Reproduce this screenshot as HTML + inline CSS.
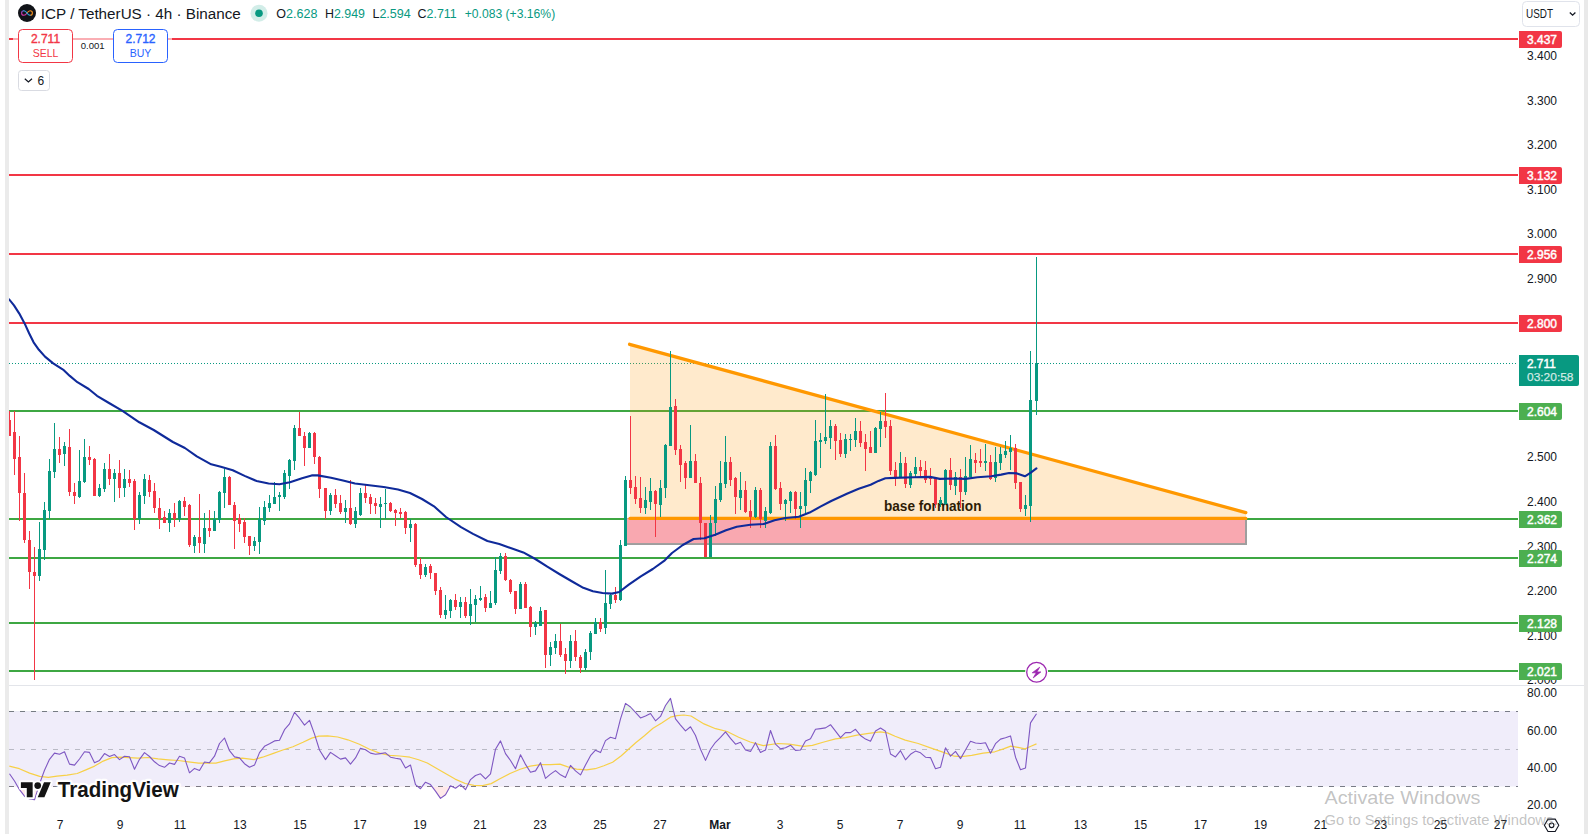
<!DOCTYPE html>
<html><head><meta charset="utf-8"><title>ICP / TetherUS chart</title>
<style>
html,body{margin:0;padding:0;background:#fff;overflow:hidden}
body{width:1592px;height:834px;position:relative;font-family:"Liberation Sans",sans-serif}
svg{position:absolute;left:0;top:0;display:block}
text{font-family:"Liberation Sans",sans-serif}
</style></head><body>
<svg width="1592" height="834" viewBox="0 0 1592 834">
<defs>
<clipPath id="cm"><rect x="9" y="0" width="1509" height="685"/></clipPath>
<clipPath id="cr"><rect x="9" y="686" width="1509" height="126"/></clipPath>
<clipPath id="cax"><rect x="1518" y="0" width="66" height="685"/></clipPath>
<linearGradient id="lg1" x1="0" x2="1" y1="0" y2="0"><stop offset="0" stop-color="#c837ab"/><stop offset="0.5" stop-color="#29abe2"/><stop offset="1" stop-color="#f7931e"/></linearGradient>
<linearGradient id="lg2" x1="0" x2="0" y1="0" y2="1"><stop offset="0" stop-color="#6a5acd"/><stop offset="0.6" stop-color="#c837ab"/><stop offset="1" stop-color="#d63aa8"/></linearGradient>
<clipPath id="cob"><rect x="9" y="686" width="1509" height="25.5"/></clipPath><clipPath id="cos"><rect x="9" y="786.5" width="1509" height="25"/></clipPath>
</defs>
<rect width="1592" height="834" fill="#fff"/>
<rect x="5" y="0" width="4" height="834" fill="#ebebeb"/>
<rect x="1584" y="0" width="4" height="834" fill="#e9e9e9"/>

<rect x="9" y="685" width="1575" height="1" fill="#e3e5ea"/>
<g clip-path="url(#cm)" shape-rendering="crispEdges">
</g>
<g clip-path="url(#cm)">
<rect x="9" y="38" width="1509" height="2" fill="#f23645"/>
<rect x="9" y="174" width="1509" height="2" fill="#f23645"/>
<rect x="9" y="253" width="1509" height="2" fill="#f23645"/>
<rect x="9" y="322" width="1509" height="2" fill="#f23645"/>
<rect x="9" y="410" width="1509" height="2" fill="#3ea743"/>
<rect x="9" y="518" width="1509" height="2" fill="#3ea743"/>
<rect x="9" y="557" width="1509" height="2" fill="#3ea743"/>
<rect x="9" y="622" width="1509" height="2" fill="#3ea743"/>
<rect x="9" y="670" width="1509" height="2" fill="#3ea743"/>
<line x1="9" x2="1518" y1="363.5" y2="363.5" stroke="#089981" stroke-width="1" stroke-dasharray="1 2" shape-rendering="crispEdges"/>
<polygon points="630,344.3 1246,512.6 1246,518.4 630,518.4" fill="rgba(255,152,0,0.2)"/>
<rect x="626" y="519" width="620" height="25" fill="#f9a8b0" stroke="#9e9e9e" stroke-width="2"/>
<rect x="625" y="518.5" width="621" height="24.8" fill="#f9a8b0"/>
<rect x="1245" y="519" width="2" height="25.7" fill="#9e9e9e"/><rect x="627" y="543.2" width="620" height="1.6" fill="#9e9e9e"/>
<line x1="629.6" y1="344.3" x2="1245.8" y2="512.6" stroke="#ff9800" stroke-width="3.3" stroke-linecap="round"/>
<line x1="630" y1="518.4" x2="1245.8" y2="518.4" stroke="#ff9800" stroke-width="3.3" stroke-linecap="round"/>
<text x="884" y="510.5" font-size="13.9" font-weight="700" fill="#2e1c05" textLength="97.5" lengthAdjust="spacingAndGlyphs">base formation</text>
<g shape-rendering="crispEdges">
<rect x="9" y="411" width="1" height="25" fill="#f23645"/><rect x="8" y="420" width="3" height="16" fill="#f23645"/>
<rect x="14" y="411" width="1" height="64" fill="#f23645"/><rect x="13" y="432" width="3" height="27" fill="#f23645"/>
<rect x="19" y="436" width="1" height="85" fill="#f23645"/><rect x="18" y="457" width="3" height="36" fill="#f23645"/>
<rect x="24" y="473" width="1" height="70" fill="#f23645"/><rect x="23" y="493" width="3" height="47" fill="#f23645"/>
<rect x="29" y="531" width="1" height="58" fill="#f23645"/><rect x="28" y="540" width="3" height="32" fill="#f23645"/>
<rect x="34" y="547" width="1" height="133" fill="#f23645"/><rect x="33" y="572" width="3" height="4" fill="#f23645"/>
<rect x="39" y="522" width="1" height="59" fill="#089981"/><rect x="38" y="549" width="3" height="27" fill="#089981"/>
<rect x="44" y="502" width="1" height="58" fill="#089981"/><rect x="43" y="510" width="3" height="40" fill="#089981"/>
<rect x="49" y="459" width="1" height="60" fill="#089981"/><rect x="48" y="471" width="3" height="40" fill="#089981"/>
<rect x="54" y="423" width="1" height="55" fill="#089981"/><rect x="53" y="449" width="3" height="23" fill="#089981"/>
<rect x="59" y="437" width="1" height="26" fill="#f23645"/><rect x="58" y="449" width="3" height="6" fill="#f23645"/>
<rect x="64" y="442" width="1" height="24" fill="#089981"/><rect x="63" y="446" width="3" height="8" fill="#089981"/>
<rect x="69" y="429" width="1" height="67" fill="#f23645"/><rect x="68" y="447" width="3" height="45" fill="#f23645"/>
<rect x="74" y="483" width="1" height="21" fill="#f23645"/><rect x="73" y="492" width="3" height="4" fill="#f23645"/>
<rect x="79" y="450" width="1" height="48" fill="#089981"/><rect x="78" y="481" width="3" height="16" fill="#089981"/>
<rect x="84" y="439" width="1" height="44" fill="#089981"/><rect x="83" y="457" width="3" height="25" fill="#089981"/>
<rect x="89" y="446" width="1" height="19" fill="#f23645"/><rect x="88" y="457" width="3" height="3" fill="#f23645"/>
<rect x="94" y="458" width="1" height="38" fill="#f23645"/><rect x="93" y="459" width="3" height="37" fill="#f23645"/>
<rect x="99" y="484" width="1" height="13" fill="#089981"/><rect x="98" y="488" width="3" height="8" fill="#089981"/>
<rect x="104" y="463" width="1" height="29" fill="#089981"/><rect x="103" y="469" width="3" height="20" fill="#089981"/>
<rect x="109" y="454" width="1" height="31" fill="#f23645"/><rect x="108" y="469" width="3" height="10" fill="#f23645"/>
<rect x="114" y="469" width="1" height="33" fill="#089981"/><rect x="113" y="473" width="3" height="6" fill="#089981"/>
<rect x="119" y="460" width="1" height="38" fill="#f23645"/><rect x="118" y="473" width="3" height="15" fill="#f23645"/>
<rect x="124" y="469" width="1" height="28" fill="#089981"/><rect x="123" y="479" width="3" height="9" fill="#089981"/>
<rect x="129" y="470" width="1" height="17" fill="#f23645"/><rect x="128" y="479" width="3" height="4" fill="#f23645"/>
<rect x="134" y="479" width="1" height="51" fill="#f23645"/><rect x="133" y="481" width="3" height="38" fill="#f23645"/>
<rect x="139" y="492" width="1" height="32" fill="#089981"/><rect x="138" y="495" width="3" height="24" fill="#089981"/>
<rect x="144" y="474" width="1" height="30" fill="#089981"/><rect x="143" y="479" width="3" height="17" fill="#089981"/>
<rect x="149" y="475" width="1" height="22" fill="#f23645"/><rect x="148" y="480" width="3" height="12" fill="#f23645"/>
<rect x="154" y="483" width="1" height="30" fill="#f23645"/><rect x="153" y="491" width="3" height="17" fill="#f23645"/>
<rect x="159" y="498" width="1" height="31" fill="#f23645"/><rect x="158" y="508" width="3" height="11" fill="#f23645"/>
<rect x="164" y="511" width="1" height="12" fill="#f23645"/><rect x="163" y="517" width="3" height="6" fill="#f23645"/>
<rect x="169" y="509" width="1" height="23" fill="#089981"/><rect x="168" y="513" width="3" height="10" fill="#089981"/>
<rect x="174" y="503" width="1" height="24" fill="#f23645"/><rect x="173" y="513" width="3" height="6" fill="#f23645"/>
<rect x="179" y="500" width="1" height="22" fill="#089981"/><rect x="178" y="501" width="3" height="18" fill="#089981"/>
<rect x="184" y="497" width="1" height="19" fill="#f23645"/><rect x="183" y="501" width="3" height="6" fill="#f23645"/>
<rect x="189" y="504" width="1" height="43" fill="#f23645"/><rect x="188" y="505" width="3" height="40" fill="#f23645"/>
<rect x="194" y="535" width="1" height="18" fill="#089981"/><rect x="193" y="537" width="3" height="9" fill="#089981"/>
<rect x="199" y="494" width="1" height="59" fill="#f23645"/><rect x="198" y="537" width="3" height="6" fill="#f23645"/>
<rect x="204" y="513" width="1" height="40" fill="#089981"/><rect x="203" y="528" width="3" height="16" fill="#089981"/>
<rect x="209" y="510" width="1" height="27" fill="#f23645"/><rect x="208" y="528" width="3" height="3" fill="#f23645"/>
<rect x="214" y="511" width="1" height="20" fill="#089981"/><rect x="213" y="519" width="3" height="12" fill="#089981"/>
<rect x="219" y="491" width="1" height="32" fill="#089981"/><rect x="218" y="492" width="3" height="28" fill="#089981"/>
<rect x="224" y="469" width="1" height="39" fill="#089981"/><rect x="223" y="477" width="3" height="16" fill="#089981"/>
<rect x="229" y="476" width="1" height="29" fill="#f23645"/><rect x="228" y="477" width="3" height="28" fill="#f23645"/>
<rect x="234" y="502" width="1" height="47" fill="#f23645"/><rect x="233" y="505" width="3" height="16" fill="#f23645"/>
<rect x="239" y="514" width="1" height="18" fill="#f23645"/><rect x="238" y="518" width="3" height="6" fill="#f23645"/>
<rect x="244" y="518" width="1" height="25" fill="#f23645"/><rect x="243" y="522" width="3" height="15" fill="#f23645"/>
<rect x="249" y="536" width="1" height="19" fill="#f23645"/><rect x="248" y="536" width="3" height="10" fill="#f23645"/>
<rect x="254" y="537" width="1" height="14" fill="#089981"/><rect x="253" y="541" width="3" height="5" fill="#089981"/>
<rect x="259" y="507" width="1" height="47" fill="#089981"/><rect x="258" y="519" width="3" height="23" fill="#089981"/>
<rect x="264" y="501" width="1" height="24" fill="#089981"/><rect x="263" y="507" width="3" height="14" fill="#089981"/>
<rect x="269" y="495" width="1" height="17" fill="#089981"/><rect x="268" y="503" width="3" height="5" fill="#089981"/>
<rect x="274" y="482" width="1" height="22" fill="#089981"/><rect x="273" y="497" width="3" height="7" fill="#089981"/>
<rect x="279" y="492" width="1" height="19" fill="#089981"/><rect x="278" y="495" width="3" height="2" fill="#089981"/>
<rect x="284" y="470" width="1" height="29" fill="#089981"/><rect x="283" y="473" width="3" height="24" fill="#089981"/>
<rect x="289" y="459" width="1" height="30" fill="#089981"/><rect x="288" y="460" width="3" height="16" fill="#089981"/>
<rect x="294" y="425" width="1" height="45" fill="#089981"/><rect x="293" y="428" width="3" height="33" fill="#089981"/>
<rect x="299" y="412" width="1" height="24" fill="#f23645"/><rect x="298" y="428" width="3" height="8" fill="#f23645"/>
<rect x="304" y="432" width="1" height="34" fill="#f23645"/><rect x="303" y="436" width="3" height="12" fill="#f23645"/>
<rect x="309" y="432" width="1" height="16" fill="#089981"/><rect x="308" y="433" width="3" height="15" fill="#089981"/>
<rect x="314" y="432" width="1" height="32" fill="#f23645"/><rect x="313" y="433" width="3" height="24" fill="#f23645"/>
<rect x="319" y="456" width="1" height="42" fill="#f23645"/><rect x="318" y="457" width="3" height="32" fill="#f23645"/>
<rect x="325" y="488" width="1" height="31" fill="#f23645"/><rect x="324" y="488" width="3" height="23" fill="#f23645"/>
<rect x="330" y="493" width="1" height="22" fill="#089981"/><rect x="329" y="495" width="3" height="16" fill="#089981"/>
<rect x="335" y="489" width="1" height="19" fill="#f23645"/><rect x="334" y="495" width="3" height="9" fill="#f23645"/>
<rect x="340" y="495" width="1" height="19" fill="#f23645"/><rect x="339" y="503" width="3" height="9" fill="#f23645"/>
<rect x="345" y="500" width="1" height="23" fill="#089981"/><rect x="344" y="508" width="3" height="4" fill="#089981"/>
<rect x="350" y="480" width="1" height="45" fill="#f23645"/><rect x="349" y="508" width="3" height="16" fill="#f23645"/>
<rect x="355" y="507" width="1" height="21" fill="#089981"/><rect x="354" y="511" width="3" height="13" fill="#089981"/>
<rect x="360" y="488" width="1" height="28" fill="#089981"/><rect x="359" y="493" width="3" height="22" fill="#089981"/>
<rect x="365" y="485" width="1" height="18" fill="#f23645"/><rect x="364" y="493" width="3" height="5" fill="#f23645"/>
<rect x="370" y="494" width="1" height="20" fill="#f23645"/><rect x="369" y="497" width="3" height="7" fill="#f23645"/>
<rect x="375" y="498" width="1" height="16" fill="#f23645"/><rect x="374" y="503" width="3" height="3" fill="#f23645"/>
<rect x="380" y="497" width="1" height="31" fill="#089981"/><rect x="379" y="504" width="3" height="3" fill="#089981"/>
<rect x="385" y="489" width="1" height="30" fill="#089981"/><rect x="384" y="503" width="3" height="1" fill="#089981"/>
<rect x="390" y="502" width="1" height="10" fill="#f23645"/><rect x="389" y="503" width="3" height="8" fill="#f23645"/>
<rect x="395" y="509" width="1" height="17" fill="#f23645"/><rect x="394" y="510" width="3" height="3" fill="#f23645"/>
<rect x="400" y="508" width="1" height="10" fill="#f23645"/><rect x="399" y="512" width="3" height="2" fill="#f23645"/>
<rect x="405" y="511" width="1" height="23" fill="#f23645"/><rect x="404" y="512" width="3" height="16" fill="#f23645"/>
<rect x="410" y="519" width="1" height="23" fill="#089981"/><rect x="409" y="524" width="3" height="4" fill="#089981"/>
<rect x="415" y="523" width="1" height="44" fill="#f23645"/><rect x="414" y="524" width="3" height="41" fill="#f23645"/>
<rect x="420" y="558" width="1" height="21" fill="#f23645"/><rect x="419" y="564" width="3" height="11" fill="#f23645"/>
<rect x="425" y="564" width="1" height="13" fill="#089981"/><rect x="424" y="567" width="3" height="8" fill="#089981"/>
<rect x="430" y="564" width="1" height="15" fill="#f23645"/><rect x="429" y="566" width="3" height="7" fill="#f23645"/>
<rect x="435" y="573" width="1" height="22" fill="#f23645"/><rect x="434" y="573" width="3" height="18" fill="#f23645"/>
<rect x="440" y="587" width="1" height="31" fill="#f23645"/><rect x="439" y="590" width="3" height="25" fill="#f23645"/>
<rect x="445" y="595" width="1" height="24" fill="#089981"/><rect x="444" y="610" width="3" height="5" fill="#089981"/>
<rect x="450" y="599" width="1" height="19" fill="#089981"/><rect x="449" y="600" width="3" height="11" fill="#089981"/>
<rect x="455" y="594" width="1" height="16" fill="#f23645"/><rect x="454" y="600" width="3" height="7" fill="#f23645"/>
<rect x="460" y="597" width="1" height="21" fill="#089981"/><rect x="459" y="602" width="3" height="5" fill="#089981"/>
<rect x="465" y="597" width="1" height="21" fill="#f23645"/><rect x="464" y="602" width="3" height="14" fill="#f23645"/>
<rect x="470" y="589" width="1" height="36" fill="#089981"/><rect x="469" y="604" width="3" height="12" fill="#089981"/>
<rect x="475" y="595" width="1" height="27" fill="#089981"/><rect x="474" y="599" width="3" height="6" fill="#089981"/>
<rect x="480" y="586" width="1" height="15" fill="#089981"/><rect x="479" y="598" width="3" height="2" fill="#089981"/>
<rect x="485" y="594" width="1" height="18" fill="#f23645"/><rect x="484" y="597" width="3" height="11" fill="#f23645"/>
<rect x="490" y="591" width="1" height="17" fill="#089981"/><rect x="489" y="603" width="3" height="5" fill="#089981"/>
<rect x="495" y="557" width="1" height="48" fill="#089981"/><rect x="494" y="570" width="3" height="33" fill="#089981"/>
<rect x="500" y="553" width="1" height="21" fill="#089981"/><rect x="499" y="556" width="3" height="15" fill="#089981"/>
<rect x="505" y="553" width="1" height="28" fill="#f23645"/><rect x="504" y="556" width="3" height="24" fill="#f23645"/>
<rect x="510" y="579" width="1" height="15" fill="#f23645"/><rect x="509" y="580" width="3" height="12" fill="#f23645"/>
<rect x="515" y="591" width="1" height="23" fill="#f23645"/><rect x="514" y="591" width="3" height="18" fill="#f23645"/>
<rect x="520" y="582" width="1" height="27" fill="#089981"/><rect x="519" y="584" width="3" height="25" fill="#089981"/>
<rect x="525" y="582" width="1" height="26" fill="#f23645"/><rect x="524" y="584" width="3" height="24" fill="#f23645"/>
<rect x="530" y="606" width="1" height="31" fill="#f23645"/><rect x="529" y="607" width="3" height="20" fill="#f23645"/>
<rect x="535" y="621" width="1" height="14" fill="#089981"/><rect x="534" y="623" width="3" height="4" fill="#089981"/>
<rect x="540" y="607" width="1" height="19" fill="#089981"/><rect x="539" y="611" width="3" height="15" fill="#089981"/>
<rect x="545" y="610" width="1" height="58" fill="#f23645"/><rect x="544" y="610" width="3" height="45" fill="#f23645"/>
<rect x="550" y="642" width="1" height="24" fill="#089981"/><rect x="549" y="647" width="3" height="8" fill="#089981"/>
<rect x="555" y="634" width="1" height="20" fill="#089981"/><rect x="554" y="641" width="3" height="7" fill="#089981"/>
<rect x="560" y="624" width="1" height="33" fill="#f23645"/><rect x="559" y="641" width="3" height="14" fill="#f23645"/>
<rect x="565" y="648" width="1" height="26" fill="#f23645"/><rect x="564" y="654" width="3" height="7" fill="#f23645"/>
<rect x="570" y="635" width="1" height="33" fill="#089981"/><rect x="569" y="641" width="3" height="20" fill="#089981"/>
<rect x="575" y="630" width="1" height="31" fill="#f23645"/><rect x="574" y="641" width="3" height="16" fill="#f23645"/>
<rect x="580" y="655" width="1" height="18" fill="#f23645"/><rect x="579" y="657" width="3" height="11" fill="#f23645"/>
<rect x="585" y="649" width="1" height="21" fill="#089981"/><rect x="584" y="652" width="3" height="16" fill="#089981"/>
<rect x="590" y="631" width="1" height="29" fill="#089981"/><rect x="589" y="633" width="3" height="19" fill="#089981"/>
<rect x="595" y="618" width="1" height="16" fill="#089981"/><rect x="594" y="622" width="3" height="12" fill="#089981"/>
<rect x="600" y="618" width="1" height="14" fill="#f23645"/><rect x="599" y="622" width="3" height="7" fill="#f23645"/>
<rect x="605" y="570" width="1" height="64" fill="#089981"/><rect x="604" y="603" width="3" height="25" fill="#089981"/>
<rect x="610" y="594" width="1" height="15" fill="#089981"/><rect x="609" y="595" width="3" height="9" fill="#089981"/>
<rect x="615" y="587" width="1" height="16" fill="#f23645"/><rect x="614" y="595" width="3" height="5" fill="#f23645"/>
<rect x="620" y="540" width="1" height="61" fill="#089981"/><rect x="619" y="545" width="3" height="55" fill="#089981"/>
<rect x="625" y="476" width="1" height="70" fill="#089981"/><rect x="624" y="480" width="3" height="66" fill="#089981"/>
<rect x="630" y="416" width="1" height="78" fill="#f23645"/><rect x="629" y="480" width="3" height="8" fill="#f23645"/>
<rect x="635" y="476" width="1" height="28" fill="#f23645"/><rect x="634" y="487" width="3" height="12" fill="#f23645"/>
<rect x="640" y="477" width="1" height="36" fill="#f23645"/><rect x="639" y="498" width="3" height="10" fill="#f23645"/>
<rect x="645" y="487" width="1" height="27" fill="#089981"/><rect x="644" y="500" width="3" height="8" fill="#089981"/>
<rect x="650" y="478" width="1" height="32" fill="#089981"/><rect x="649" y="491" width="3" height="11" fill="#089981"/>
<rect x="655" y="490" width="1" height="47" fill="#f23645"/><rect x="654" y="491" width="3" height="13" fill="#f23645"/>
<rect x="660" y="480" width="1" height="37" fill="#089981"/><rect x="659" y="488" width="3" height="17" fill="#089981"/>
<rect x="665" y="444" width="1" height="54" fill="#089981"/><rect x="664" y="445" width="3" height="43" fill="#089981"/>
<rect x="670" y="351" width="1" height="95" fill="#089981"/><rect x="669" y="407" width="3" height="39" fill="#089981"/>
<rect x="675" y="399" width="1" height="56" fill="#f23645"/><rect x="674" y="406" width="3" height="44" fill="#f23645"/>
<rect x="680" y="445" width="1" height="37" fill="#f23645"/><rect x="679" y="449" width="3" height="16" fill="#f23645"/>
<rect x="685" y="461" width="1" height="28" fill="#f23645"/><rect x="684" y="463" width="3" height="15" fill="#f23645"/>
<rect x="690" y="425" width="1" height="53" fill="#089981"/><rect x="689" y="461" width="3" height="17" fill="#089981"/>
<rect x="695" y="454" width="1" height="29" fill="#f23645"/><rect x="694" y="461" width="3" height="22" fill="#f23645"/>
<rect x="700" y="477" width="1" height="63" fill="#f23645"/><rect x="699" y="483" width="3" height="40" fill="#f23645"/>
<rect x="705" y="523" width="1" height="34" fill="#f23645"/><rect x="704" y="523" width="3" height="34" fill="#f23645"/>
<rect x="710" y="515" width="1" height="42" fill="#089981"/><rect x="709" y="523" width="3" height="34" fill="#089981"/>
<rect x="715" y="486" width="1" height="50" fill="#089981"/><rect x="714" y="499" width="3" height="24" fill="#089981"/>
<rect x="720" y="461" width="1" height="41" fill="#089981"/><rect x="719" y="483" width="3" height="17" fill="#089981"/>
<rect x="725" y="436" width="1" height="52" fill="#089981"/><rect x="724" y="462" width="3" height="22" fill="#089981"/>
<rect x="730" y="457" width="1" height="29" fill="#f23645"/><rect x="729" y="462" width="3" height="18" fill="#f23645"/>
<rect x="735" y="477" width="1" height="37" fill="#f23645"/><rect x="734" y="478" width="3" height="19" fill="#f23645"/>
<rect x="740" y="472" width="1" height="38" fill="#089981"/><rect x="739" y="490" width="3" height="8" fill="#089981"/>
<rect x="745" y="481" width="1" height="32" fill="#f23645"/><rect x="744" y="490" width="3" height="22" fill="#f23645"/>
<rect x="750" y="500" width="1" height="28" fill="#f23645"/><rect x="749" y="511" width="3" height="6" fill="#f23645"/>
<rect x="755" y="487" width="1" height="31" fill="#089981"/><rect x="754" y="490" width="3" height="27" fill="#089981"/>
<rect x="760" y="488" width="1" height="40" fill="#f23645"/><rect x="759" y="490" width="3" height="29" fill="#f23645"/>
<rect x="765" y="507" width="1" height="21" fill="#089981"/><rect x="764" y="511" width="3" height="10" fill="#089981"/>
<rect x="770" y="442" width="1" height="72" fill="#089981"/><rect x="769" y="446" width="3" height="67" fill="#089981"/>
<rect x="775" y="435" width="1" height="55" fill="#f23645"/><rect x="774" y="446" width="3" height="43" fill="#f23645"/>
<rect x="780" y="482" width="1" height="28" fill="#f23645"/><rect x="779" y="488" width="3" height="16" fill="#f23645"/>
<rect x="785" y="499" width="1" height="22" fill="#089981"/><rect x="784" y="500" width="3" height="4" fill="#089981"/>
<rect x="790" y="491" width="1" height="22" fill="#089981"/><rect x="789" y="492" width="3" height="9" fill="#089981"/>
<rect x="795" y="491" width="1" height="28" fill="#f23645"/><rect x="794" y="492" width="3" height="17" fill="#f23645"/>
<rect x="800" y="492" width="1" height="36" fill="#089981"/><rect x="799" y="506" width="3" height="3" fill="#089981"/>
<rect x="805" y="468" width="1" height="45" fill="#089981"/><rect x="804" y="480" width="3" height="26" fill="#089981"/>
<rect x="810" y="471" width="1" height="22" fill="#089981"/><rect x="809" y="472" width="3" height="9" fill="#089981"/>
<rect x="815" y="420" width="1" height="56" fill="#089981"/><rect x="814" y="441" width="3" height="34" fill="#089981"/>
<rect x="820" y="433" width="1" height="35" fill="#089981"/><rect x="819" y="440" width="3" height="2" fill="#089981"/>
<rect x="825" y="394" width="1" height="50" fill="#089981"/><rect x="824" y="437" width="3" height="4" fill="#089981"/>
<rect x="830" y="420" width="1" height="29" fill="#089981"/><rect x="829" y="426" width="3" height="12" fill="#089981"/>
<rect x="835" y="424" width="1" height="36" fill="#f23645"/><rect x="834" y="426" width="3" height="15" fill="#f23645"/>
<rect x="840" y="433" width="1" height="24" fill="#f23645"/><rect x="839" y="440" width="3" height="14" fill="#f23645"/>
<rect x="845" y="434" width="1" height="24" fill="#089981"/><rect x="844" y="439" width="3" height="15" fill="#089981"/>
<rect x="850" y="434" width="1" height="17" fill="#089981"/><rect x="849" y="439" width="3" height="1" fill="#089981"/>
<rect x="855" y="418" width="1" height="29" fill="#089981"/><rect x="854" y="431" width="3" height="9" fill="#089981"/>
<rect x="860" y="421" width="1" height="26" fill="#f23645"/><rect x="859" y="431" width="3" height="12" fill="#f23645"/>
<rect x="865" y="434" width="1" height="37" fill="#f23645"/><rect x="864" y="442" width="3" height="7" fill="#f23645"/>
<rect x="870" y="431" width="1" height="22" fill="#f23645"/><rect x="869" y="447" width="3" height="6" fill="#f23645"/>
<rect x="875" y="427" width="1" height="26" fill="#089981"/><rect x="874" y="428" width="3" height="25" fill="#089981"/>
<rect x="880" y="412" width="1" height="35" fill="#089981"/><rect x="879" y="421" width="3" height="8" fill="#089981"/>
<rect x="885" y="393" width="1" height="45" fill="#f23645"/><rect x="884" y="421" width="3" height="6" fill="#f23645"/>
<rect x="890" y="420" width="1" height="55" fill="#f23645"/><rect x="889" y="426" width="3" height="45" fill="#f23645"/>
<rect x="895" y="462" width="1" height="24" fill="#f23645"/><rect x="894" y="470" width="3" height="7" fill="#f23645"/>
<rect x="900" y="452" width="1" height="26" fill="#089981"/><rect x="899" y="463" width="3" height="14" fill="#089981"/>
<rect x="905" y="457" width="1" height="31" fill="#f23645"/><rect x="904" y="463" width="3" height="21" fill="#f23645"/>
<rect x="910" y="471" width="1" height="17" fill="#089981"/><rect x="909" y="473" width="3" height="12" fill="#089981"/>
<rect x="915" y="457" width="1" height="21" fill="#089981"/><rect x="914" y="467" width="3" height="7" fill="#089981"/>
<rect x="920" y="460" width="1" height="17" fill="#f23645"/><rect x="919" y="467" width="3" height="4" fill="#f23645"/>
<rect x="925" y="461" width="1" height="22" fill="#f23645"/><rect x="924" y="470" width="3" height="10" fill="#f23645"/>
<rect x="930" y="468" width="1" height="17" fill="#f23645"/><rect x="929" y="476" width="3" height="3" fill="#f23645"/>
<rect x="935" y="477" width="1" height="31" fill="#f23645"/><rect x="934" y="478" width="3" height="26" fill="#f23645"/>
<rect x="940" y="497" width="1" height="10" fill="#089981"/><rect x="939" y="500" width="3" height="4" fill="#089981"/>
<rect x="945" y="469" width="1" height="36" fill="#089981"/><rect x="944" y="470" width="3" height="34" fill="#089981"/>
<rect x="950" y="458" width="1" height="32" fill="#f23645"/><rect x="949" y="470" width="3" height="15" fill="#f23645"/>
<rect x="955" y="472" width="1" height="23" fill="#089981"/><rect x="954" y="477" width="3" height="9" fill="#089981"/>
<rect x="960" y="469" width="1" height="39" fill="#f23645"/><rect x="959" y="477" width="3" height="15" fill="#f23645"/>
<rect x="965" y="457" width="1" height="38" fill="#089981"/><rect x="964" y="476" width="3" height="16" fill="#089981"/>
<rect x="970" y="445" width="1" height="32" fill="#089981"/><rect x="969" y="459" width="3" height="18" fill="#089981"/>
<rect x="975" y="453" width="1" height="20" fill="#f23645"/><rect x="974" y="460" width="3" height="3" fill="#f23645"/>
<rect x="980" y="449" width="1" height="18" fill="#f23645"/><rect x="979" y="461" width="3" height="2" fill="#f23645"/>
<rect x="985" y="444" width="1" height="27" fill="#089981"/><rect x="984" y="461" width="3" height="2" fill="#089981"/>
<rect x="990" y="455" width="1" height="25" fill="#f23645"/><rect x="989" y="462" width="3" height="17" fill="#f23645"/>
<rect x="995" y="447" width="1" height="35" fill="#089981"/><rect x="994" y="462" width="3" height="16" fill="#089981"/>
<rect x="1000" y="447" width="1" height="23" fill="#089981"/><rect x="999" y="454" width="3" height="9" fill="#089981"/>
<rect x="1005" y="441" width="1" height="17" fill="#089981"/><rect x="1004" y="451" width="3" height="4" fill="#089981"/>
<rect x="1010" y="435" width="1" height="35" fill="#089981"/><rect x="1009" y="448" width="3" height="4" fill="#089981"/>
<rect x="1015" y="444" width="1" height="45" fill="#f23645"/><rect x="1014" y="448" width="3" height="35" fill="#f23645"/>
<rect x="1020" y="482" width="1" height="30" fill="#f23645"/><rect x="1019" y="482" width="3" height="27" fill="#f23645"/>
<rect x="1025" y="495" width="1" height="21" fill="#089981"/><rect x="1024" y="505" width="3" height="4" fill="#089981"/>
<rect x="1030" y="351" width="1" height="171" fill="#089981"/><rect x="1029" y="400" width="3" height="106" fill="#089981"/>
<rect x="1036" y="257" width="1" height="158" fill="#089981"/><rect x="1035" y="363" width="3" height="38" fill="#089981"/>
</g>
<polyline points="9.1,299.3 14.0,305.4 19.3,313.6 24.6,323.4 29.1,333.2 33.6,342.3 38.9,349.8 45.0,356.6 53.2,363.4 63.8,370.2 69.8,375.9 77.4,382.2 88.7,389.0 97.0,395.8 109.0,403.0 122.5,410.8 139.3,422.3 153.7,430.0 172.9,442.0 184.9,448.0 196.8,456.4 211.2,464.3 220.8,466.7 232.8,470.3 244.6,475.9 256.6,481.0 268.6,483.5 279.4,484.2 290.0,482.3 302.0,478.2 311.7,475.4 317.7,475.4 331.0,477.8 343.0,480.6 355.0,483.5 369.3,485.2 383.7,487.0 398.0,489.5 410.0,493.0 422.0,499.0 434.0,506.3 446.0,517.0 461.0,527.2 473.0,533.9 487.4,541.0 499.3,544.0 511.3,548.3 523.3,552.4 535.3,559.0 547.3,566.7 559.3,574.0 571.3,581.0 583.3,587.8 592.9,591.2 602.5,593.0 612.0,593.6 619.2,592.0 628.8,584.7 640.8,576.3 652.8,569.0 664.8,560.3 672.0,553.0 682.8,545.0 693.6,539.0 704.4,538.3 715.2,534.8 726.0,530.2 736.8,526.7 750.3,524.8 763.8,524.0 774.6,520.2 785.3,518.0 798.8,516.7 809.6,512.6 820.4,506.7 831.2,501.0 846.9,493.7 858.7,488.8 870.6,484.8 878.5,480.9 885.4,478.3 894.3,477.9 914.0,477.3 930.0,476.9 939.8,478.9 953.7,478.5 965.6,478.9 977.4,477.3 991.3,476.3 1001.2,474.6 1009.0,473.0 1017.0,473.4 1024.9,476.3 1030.8,472.6 1036.4,468.4" fill="none" stroke="#0f2a9a" stroke-width="2.1" stroke-linejoin="round" stroke-linecap="round"/>
<g transform="translate(1036.6,672.3)"><circle r="11.5" fill="#fff"/><circle r="9.9" fill="#fff" stroke="#9c27b0" stroke-width="1.3"/><path d="M3.1,-5.1 L-4.4,0.5 L-0.4,0.5 L-3.4,5.6 L4.3,-0.4 L0.4,-0.4 Z" fill="#9c27b0" stroke="#9c27b0" stroke-width="0.7" stroke-linejoin="round"/></g>
</g>
<g clip-path="url(#cr)">
<rect x="9" y="711" width="1509" height="75.5" fill="#f0edfa"/>
<line x1="9" x2="1518" y1="711.5" y2="711.5" stroke="#787b86" stroke-width="1" stroke-dasharray="5 6"/>
<line x1="9" x2="1518" y1="749.5" y2="749.5" stroke="#b9bac5" stroke-width="1" stroke-dasharray="5 6"/>
<line x1="9" x2="1518" y1="786.5" y2="786.5" stroke="#787b86" stroke-width="1" stroke-dasharray="5 6"/>
<polyline points="9.3,766.1 19.4,768.7 29.6,773.1 39.7,776.4 48.3,777.3 57.0,776.2 67.1,775.2 77.2,773.5 85.9,769.9 94.6,766.1 103.2,761.1 111.9,757.6 120.6,757.2 129.2,757.6 137.9,758.2 148.0,757.5 158.1,758.9 168.2,759.8 178.4,760.5 188.5,761.8 198.6,763.2 207.3,763.0 215.9,763.2 224.6,760.8 233.7,758.9 242.3,758.2 253.9,759.6 262.6,757.2 272.7,753.6 282.8,750.0 292.9,746.8 303.0,742.3 311.7,738.1 318.9,736.2 327.6,735.8 337.7,737.0 347.8,739.8 359.4,744.2 369.5,749.2 379.6,753.1 389.7,755.4 399.8,756.0 409.9,757.2 418.6,759.8 427.3,763.0 435.9,768.0 444.6,773.1 455.1,779.1 465.2,783.5 473.9,785.3 482.6,785.6 491.2,783.6 499.9,778.8 510.0,773.5 520.1,769.2 530.2,766.1 540.3,764.7 550.5,764.7 559.9,764.1 567.8,766.9 576.5,769.2 586.6,769.9 595.2,768.7 603.9,765.8 612.6,762.2 621.3,755.7 628.5,749.2 635.7,742.7 644.4,735.8 653.0,728.3 661.7,722.9 670.4,717.2 677.0,715.6 683.8,715.0 691.0,716.0 704.0,723.9 715.6,728.7 727.1,731.5 738.7,737.2 750.2,742.0 763.2,745.6 777.7,743.5 789.2,744.2 803.7,746.3 812.4,745.3 823.9,742.0 835.5,738.8 845.6,737.7 857.1,735.2 868.7,733.3 880.3,731.9 887.5,732.9 895.1,736.2 905.2,740.1 918.2,743.5 931.2,748.1 942.8,752.1 954.3,756.2 961.6,756.7 971.7,755.3 983.2,753.1 994.8,751.8 1003.5,748.9 1010.7,746.1 1017.9,747.4 1025.1,748.9 1030.9,746.3 1036.5,743.9" fill="none" stroke="#f7d047" stroke-width="1.2" stroke-linejoin="round"/>
<polygon points="9.5,773.8 14.5,781.0 19.5,789.7 24.5,796.2 29.5,799.0 34.5,799.8 39.5,783.9 44.5,770.2 49.5,759.3 54.5,753.1 59.5,754.3 64.5,751.8 69.5,764.1 74.5,765.1 79.5,759.0 84.5,751.7 89.5,752.4 94.5,762.7 99.5,760.4 104.5,753.6 109.5,756.5 114.5,754.6 119.5,759.6 124.5,756.2 129.5,756.7 134.5,769.2 139.5,759.3 144.5,752.6 149.5,756.5 154.5,761.8 159.5,765.6 164.5,767.3 169.5,763.0 174.5,764.4 179.5,756.2 184.5,757.9 189.5,772.8 194.5,768.4 199.5,770.5 204.5,762.0 209.5,762.7 214.5,756.2 219.5,743.5 224.5,738.0 229.5,750.7 234.5,756.9 239.5,757.9 244.5,763.7 249.5,767.3 254.5,765.1 259.5,752.6 264.5,746.3 269.5,743.7 274.5,740.9 279.5,740.3 284.5,729.7 289.5,723.9 294.5,712.4 299.5,718.2 304.5,725.1 309.5,720.3 314.5,734.1 319.5,750.0 325.5,759.6 330.5,752.4 335.5,755.7 340.5,759.1 345.5,757.9 350.5,764.1 355.5,757.9 360.5,748.2 365.5,749.7 370.5,753.1 375.5,754.3 380.5,753.6 385.5,752.8 390.5,757.2 395.5,758.3 400.5,759.1 405.5,768.0 410.5,765.1 415.5,784.6 420.5,788.7 425.5,782.2 430.5,784.6 435.5,791.1 440.5,798.4 445.5,794.7 450.5,785.8 455.5,788.2 460.5,784.6 465.5,789.7 470.5,779.6 475.5,775.5 480.5,773.8 485.5,778.8 490.5,773.8 495.5,749.2 500.5,740.9 505.5,753.6 510.5,760.5 515.5,768.7 520.5,754.7 525.5,764.4 530.5,772.3 535.5,770.9 540.5,762.7 545.5,778.4 550.5,774.1 555.5,770.6 560.5,774.8 565.5,777.4 570.5,765.4 575.5,770.9 580.5,774.9 585.5,765.1 590.5,755.7 595.5,750.2 600.5,752.6 605.5,740.6 610.5,737.2 615.5,738.7 620.5,718.9 625.5,703.4 630.5,707.0 635.5,712.4 640.5,717.9 645.5,716.0 650.5,713.5 655.5,720.8 660.5,716.4 665.5,705.5 670.5,698.4 675.5,718.9 680.5,725.1 685.5,730.9 690.5,726.8 695.5,735.5 700.5,749.2 705.5,760.4 710.5,749.2 715.5,742.3 720.5,737.4 725.5,731.9 730.5,738.4 735.5,744.2 740.5,742.3 745.5,750.0 750.5,751.4 755.5,742.7 760.5,752.4 765.5,750.0 770.5,730.5 775.5,744.2 780.5,748.9 785.5,747.8 790.5,745.2 795.5,750.4 800.5,750.0 805.5,740.9 810.5,738.7 815.5,729.3 820.5,728.6 825.5,727.9 830.5,724.7 835.5,731.2 840.5,737.7 845.5,732.6 850.5,732.6 855.5,729.3 860.5,735.5 865.5,739.1 870.5,741.3 875.5,730.9 880.5,728.0 885.5,731.2 890.5,754.0 895.5,756.9 900.5,750.7 905.5,759.8 910.5,754.3 915.5,751.1 920.5,752.8 925.5,757.2 930.5,757.6 935.5,768.7 940.5,767.3 945.5,747.8 950.5,756.2 955.5,751.4 960.5,758.6 965.5,750.0 970.5,741.3 975.5,743.0 980.5,743.5 985.5,742.7 990.5,753.3 995.5,743.7 1000.5,739.1 1005.5,737.7 1010.5,735.9 1015.5,757.2 1020.5,769.7 1025.5,768.0 1030.5,722.9 1036.5,713.8 1036.5,711.5 9.5,711.5" fill="rgba(76,175,80,0.13)" clip-path="url(#cob)"/>
<polygon points="9.5,773.8 14.5,781.0 19.5,789.7 24.5,796.2 29.5,799.0 34.5,799.8 39.5,783.9 44.5,770.2 49.5,759.3 54.5,753.1 59.5,754.3 64.5,751.8 69.5,764.1 74.5,765.1 79.5,759.0 84.5,751.7 89.5,752.4 94.5,762.7 99.5,760.4 104.5,753.6 109.5,756.5 114.5,754.6 119.5,759.6 124.5,756.2 129.5,756.7 134.5,769.2 139.5,759.3 144.5,752.6 149.5,756.5 154.5,761.8 159.5,765.6 164.5,767.3 169.5,763.0 174.5,764.4 179.5,756.2 184.5,757.9 189.5,772.8 194.5,768.4 199.5,770.5 204.5,762.0 209.5,762.7 214.5,756.2 219.5,743.5 224.5,738.0 229.5,750.7 234.5,756.9 239.5,757.9 244.5,763.7 249.5,767.3 254.5,765.1 259.5,752.6 264.5,746.3 269.5,743.7 274.5,740.9 279.5,740.3 284.5,729.7 289.5,723.9 294.5,712.4 299.5,718.2 304.5,725.1 309.5,720.3 314.5,734.1 319.5,750.0 325.5,759.6 330.5,752.4 335.5,755.7 340.5,759.1 345.5,757.9 350.5,764.1 355.5,757.9 360.5,748.2 365.5,749.7 370.5,753.1 375.5,754.3 380.5,753.6 385.5,752.8 390.5,757.2 395.5,758.3 400.5,759.1 405.5,768.0 410.5,765.1 415.5,784.6 420.5,788.7 425.5,782.2 430.5,784.6 435.5,791.1 440.5,798.4 445.5,794.7 450.5,785.8 455.5,788.2 460.5,784.6 465.5,789.7 470.5,779.6 475.5,775.5 480.5,773.8 485.5,778.8 490.5,773.8 495.5,749.2 500.5,740.9 505.5,753.6 510.5,760.5 515.5,768.7 520.5,754.7 525.5,764.4 530.5,772.3 535.5,770.9 540.5,762.7 545.5,778.4 550.5,774.1 555.5,770.6 560.5,774.8 565.5,777.4 570.5,765.4 575.5,770.9 580.5,774.9 585.5,765.1 590.5,755.7 595.5,750.2 600.5,752.6 605.5,740.6 610.5,737.2 615.5,738.7 620.5,718.9 625.5,703.4 630.5,707.0 635.5,712.4 640.5,717.9 645.5,716.0 650.5,713.5 655.5,720.8 660.5,716.4 665.5,705.5 670.5,698.4 675.5,718.9 680.5,725.1 685.5,730.9 690.5,726.8 695.5,735.5 700.5,749.2 705.5,760.4 710.5,749.2 715.5,742.3 720.5,737.4 725.5,731.9 730.5,738.4 735.5,744.2 740.5,742.3 745.5,750.0 750.5,751.4 755.5,742.7 760.5,752.4 765.5,750.0 770.5,730.5 775.5,744.2 780.5,748.9 785.5,747.8 790.5,745.2 795.5,750.4 800.5,750.0 805.5,740.9 810.5,738.7 815.5,729.3 820.5,728.6 825.5,727.9 830.5,724.7 835.5,731.2 840.5,737.7 845.5,732.6 850.5,732.6 855.5,729.3 860.5,735.5 865.5,739.1 870.5,741.3 875.5,730.9 880.5,728.0 885.5,731.2 890.5,754.0 895.5,756.9 900.5,750.7 905.5,759.8 910.5,754.3 915.5,751.1 920.5,752.8 925.5,757.2 930.5,757.6 935.5,768.7 940.5,767.3 945.5,747.8 950.5,756.2 955.5,751.4 960.5,758.6 965.5,750.0 970.5,741.3 975.5,743.0 980.5,743.5 985.5,742.7 990.5,753.3 995.5,743.7 1000.5,739.1 1005.5,737.7 1010.5,735.9 1015.5,757.2 1020.5,769.7 1025.5,768.0 1030.5,722.9 1036.5,713.8 1036.5,786.5 9.5,786.5" fill="rgba(255,82,82,0.13)" clip-path="url(#cos)"/>
<polyline points="9.5,773.8 14.5,781.0 19.5,789.7 24.5,796.2 29.5,799.0 34.5,799.8 39.5,783.9 44.5,770.2 49.5,759.3 54.5,753.1 59.5,754.3 64.5,751.8 69.5,764.1 74.5,765.1 79.5,759.0 84.5,751.7 89.5,752.4 94.5,762.7 99.5,760.4 104.5,753.6 109.5,756.5 114.5,754.6 119.5,759.6 124.5,756.2 129.5,756.7 134.5,769.2 139.5,759.3 144.5,752.6 149.5,756.5 154.5,761.8 159.5,765.6 164.5,767.3 169.5,763.0 174.5,764.4 179.5,756.2 184.5,757.9 189.5,772.8 194.5,768.4 199.5,770.5 204.5,762.0 209.5,762.7 214.5,756.2 219.5,743.5 224.5,738.0 229.5,750.7 234.5,756.9 239.5,757.9 244.5,763.7 249.5,767.3 254.5,765.1 259.5,752.6 264.5,746.3 269.5,743.7 274.5,740.9 279.5,740.3 284.5,729.7 289.5,723.9 294.5,712.4 299.5,718.2 304.5,725.1 309.5,720.3 314.5,734.1 319.5,750.0 325.5,759.6 330.5,752.4 335.5,755.7 340.5,759.1 345.5,757.9 350.5,764.1 355.5,757.9 360.5,748.2 365.5,749.7 370.5,753.1 375.5,754.3 380.5,753.6 385.5,752.8 390.5,757.2 395.5,758.3 400.5,759.1 405.5,768.0 410.5,765.1 415.5,784.6 420.5,788.7 425.5,782.2 430.5,784.6 435.5,791.1 440.5,798.4 445.5,794.7 450.5,785.8 455.5,788.2 460.5,784.6 465.5,789.7 470.5,779.6 475.5,775.5 480.5,773.8 485.5,778.8 490.5,773.8 495.5,749.2 500.5,740.9 505.5,753.6 510.5,760.5 515.5,768.7 520.5,754.7 525.5,764.4 530.5,772.3 535.5,770.9 540.5,762.7 545.5,778.4 550.5,774.1 555.5,770.6 560.5,774.8 565.5,777.4 570.5,765.4 575.5,770.9 580.5,774.9 585.5,765.1 590.5,755.7 595.5,750.2 600.5,752.6 605.5,740.6 610.5,737.2 615.5,738.7 620.5,718.9 625.5,703.4 630.5,707.0 635.5,712.4 640.5,717.9 645.5,716.0 650.5,713.5 655.5,720.8 660.5,716.4 665.5,705.5 670.5,698.4 675.5,718.9 680.5,725.1 685.5,730.9 690.5,726.8 695.5,735.5 700.5,749.2 705.5,760.4 710.5,749.2 715.5,742.3 720.5,737.4 725.5,731.9 730.5,738.4 735.5,744.2 740.5,742.3 745.5,750.0 750.5,751.4 755.5,742.7 760.5,752.4 765.5,750.0 770.5,730.5 775.5,744.2 780.5,748.9 785.5,747.8 790.5,745.2 795.5,750.4 800.5,750.0 805.5,740.9 810.5,738.7 815.5,729.3 820.5,728.6 825.5,727.9 830.5,724.7 835.5,731.2 840.5,737.7 845.5,732.6 850.5,732.6 855.5,729.3 860.5,735.5 865.5,739.1 870.5,741.3 875.5,730.9 880.5,728.0 885.5,731.2 890.5,754.0 895.5,756.9 900.5,750.7 905.5,759.8 910.5,754.3 915.5,751.1 920.5,752.8 925.5,757.2 930.5,757.6 935.5,768.7 940.5,767.3 945.5,747.8 950.5,756.2 955.5,751.4 960.5,758.6 965.5,750.0 970.5,741.3 975.5,743.0 980.5,743.5 985.5,742.7 990.5,753.3 995.5,743.7 1000.5,739.1 1005.5,737.7 1010.5,735.9 1015.5,757.2 1020.5,769.7 1025.5,768.0 1030.5,722.9 1036.5,713.8" fill="none" stroke="#7e57c2" stroke-width="1.1" stroke-linejoin="round"/>
</g>
<g font-size="12" fill="#131722">
<g clip-path="url(#cax)">
<text x="1527" y="60.0">3.400</text>
<text x="1527" y="104.6">3.300</text>
<text x="1527" y="149.2">3.200</text>
<text x="1527" y="193.8">3.100</text>
<text x="1527" y="238.4">3.000</text>
<text x="1527" y="283.0">2.900</text>
<text x="1527" y="327.6">2.800</text>
<text x="1527" y="372.2">2.700</text>
<text x="1527" y="416.8">2.600</text>
<text x="1527" y="461.4">2.500</text>
<text x="1527" y="506.0">2.400</text>
<text x="1527" y="550.6">2.300</text>
<text x="1527" y="595.2">2.200</text>
<text x="1527" y="639.8">2.100</text>
<text x="1527" y="684.4">2.000</text>
</g>
<text x="1527" y="697">80.00</text>
<text x="1527" y="735">60.00</text>
<text x="1527" y="772.3">40.00</text>
<text x="1527" y="809">20.00</text>
</g>
<path d="M1519,31 h41 a2,2 0 0 1 2,2 v13 a2,2 0 0 1 -2,2 h-41 z" fill="#f23645"/><text x="1527" y="44.2" font-size="12" fill="#fff" stroke="#fff" stroke-width="0.45" textLength="30" lengthAdjust="spacingAndGlyphs">3.437</text>
<path d="M1519,167 h41 a2,2 0 0 1 2,2 v13 a2,2 0 0 1 -2,2 h-41 z" fill="#f23645"/><text x="1527" y="180.2" font-size="12" fill="#fff" stroke="#fff" stroke-width="0.45" textLength="30" lengthAdjust="spacingAndGlyphs">3.132</text>
<path d="M1519,246 h41 a2,2 0 0 1 2,2 v13 a2,2 0 0 1 -2,2 h-41 z" fill="#f23645"/><text x="1527" y="259.2" font-size="12" fill="#fff" stroke="#fff" stroke-width="0.45" textLength="30" lengthAdjust="spacingAndGlyphs">2.956</text>
<path d="M1519,315 h41 a2,2 0 0 1 2,2 v13 a2,2 0 0 1 -2,2 h-41 z" fill="#f23645"/><text x="1527" y="328.2" font-size="12" fill="#fff" stroke="#fff" stroke-width="0.45" textLength="30" lengthAdjust="spacingAndGlyphs">2.800</text>
<path d="M1519,403 h41 a2,2 0 0 1 2,2 v13 a2,2 0 0 1 -2,2 h-41 z" fill="#4caf50"/><text x="1527" y="416.2" font-size="12" fill="#fff" stroke="#fff" stroke-width="0.45" textLength="30" lengthAdjust="spacingAndGlyphs">2.604</text>
<path d="M1519,511 h41 a2,2 0 0 1 2,2 v13 a2,2 0 0 1 -2,2 h-41 z" fill="#4caf50"/><text x="1527" y="524.2" font-size="12" fill="#fff" stroke="#fff" stroke-width="0.45" textLength="30" lengthAdjust="spacingAndGlyphs">2.362</text>
<path d="M1519,550 h41 a2,2 0 0 1 2,2 v13 a2,2 0 0 1 -2,2 h-41 z" fill="#4caf50"/><text x="1527" y="563.2" font-size="12" fill="#fff" stroke="#fff" stroke-width="0.45" textLength="30" lengthAdjust="spacingAndGlyphs">2.274</text>
<path d="M1519,615 h41 a2,2 0 0 1 2,2 v13 a2,2 0 0 1 -2,2 h-41 z" fill="#4caf50"/><text x="1527" y="628.2" font-size="12" fill="#fff" stroke="#fff" stroke-width="0.45" textLength="30" lengthAdjust="spacingAndGlyphs">2.128</text>
<path d="M1519,663 h41 a2,2 0 0 1 2,2 v13 a2,2 0 0 1 -2,2 h-41 z" fill="#4caf50"/><text x="1527" y="676.2" font-size="12" fill="#fff" stroke="#fff" stroke-width="0.45" textLength="30" lengthAdjust="spacingAndGlyphs">2.021</text>
<path d="M1519,355 h58 a2,2 0 0 1 2,2 v27 a2,2 0 0 1 -2,2 h-58 z" fill="#089981"/>
<text x="1527" y="368.4" font-size="12" fill="#fff" stroke="#fff" stroke-width="0.45" textLength="28.7" lengthAdjust="spacingAndGlyphs">2.711</text>
<text x="1527" y="380.9" font-size="11.7" fill="rgba(255,255,255,0.75)" stroke="rgba(255,255,255,0.75)" stroke-width="0.25" textLength="46.5" lengthAdjust="spacingAndGlyphs">03:20:58</text>
<rect x="1522.5" y="1.5" width="57" height="25" rx="4" fill="#fff" stroke="#e0e3eb"/>
<text x="1526" y="18" font-size="12" fill="#131722" textLength="27" lengthAdjust="spacingAndGlyphs">USDT</text>
<path d="M1569.8,12.6 l2.8,2.6 l2.8,-2.6" fill="none" stroke="#131722" stroke-width="1.3"/>
<g font-size="12" fill="#131722" text-anchor="middle">
<text x="60" y="829">7</text>
<text x="120" y="829">9</text>
<text x="180" y="829">11</text>
<text x="240" y="829">13</text>
<text x="300" y="829">15</text>
<text x="360" y="829">17</text>
<text x="420" y="829">19</text>
<text x="480" y="829">21</text>
<text x="540" y="829">23</text>
<text x="600" y="829">25</text>
<text x="660" y="829">27</text>
<text x="720" y="829" font-weight="700">Mar</text>
<text x="780" y="829">3</text>
<text x="840" y="829">5</text>
<text x="900" y="829">7</text>
<text x="960" y="829">9</text>
<text x="1020" y="829">11</text>
<text x="1080.4" y="829">13</text>
<text x="1140.4" y="829">15</text>
<text x="1200.4" y="829">17</text>
<text x="1260.4" y="829">19</text>
<text x="1320.4" y="829">21</text>
<text x="1380.4" y="829">23</text>
<text x="1440.4" y="829">25</text>
<text x="1500.4" y="829">27</text>
</g>
<polygon points="1558.8,825.3 1555.2,831.5 1548.0,831.5 1544.4,825.3 1548.0,819.1 1555.2,819.1" fill="#fff" stroke="#131722" stroke-width="1.1"/><circle cx="1551.6" cy="825.3" r="2.3" fill="none" stroke="#131722" stroke-width="1.1"/>
<text x="1324.5" y="803.5" font-size="18.6" fill="rgba(110,110,110,0.42)" textLength="156" lengthAdjust="spacingAndGlyphs">Activate Windows</text>
<text x="1324.5" y="825" font-size="14.3" fill="rgba(110,110,110,0.42)" textLength="233" lengthAdjust="spacingAndGlyphs">Go to Settings to activate Windows.</text>
<g stroke="#fff" stroke-width="4.5" stroke-linejoin="round" fill="#fff"><g transform="translate(20.9,778.85) scale(0.84)"><path d="M14 22H7V11H0V4h14v18zM28 22h-8l7.5-18h8L28 22z"/><circle cx="20" cy="8" r="4"/></g><text x="57.8" y="797" font-size="21.4" font-weight="700" textLength="121" lengthAdjust="spacingAndGlyphs">TradingView</text></g>
<g fill="#141414"><g transform="translate(20.9,778.85) scale(0.84)"><path d="M14 22H7V11H0V4h14v18zM28 22h-8l7.5-18h8L28 22z"/><circle cx="20" cy="8" r="4"/></g><text x="57.8" y="797" font-size="21.4" font-weight="700" textLength="121" lengthAdjust="spacingAndGlyphs">TradingView</text></g>
<rect x="13" y="28" width="159" height="36" fill="rgba(255,255,255,0.6)"/>
<circle cx="27" cy="13" r="9" fill="#111318"/>
<g fill="none" stroke-width="1.1" stroke-linecap="round"><path d="M23.9,10.7 A2.3,2.3 0 0 0 23.9,15.3 C25,15.3 26,14.6 27,13" stroke="url(#lg2)"/><path d="M27,13 C28,11.4 29,10.7 30.1,10.7 A2.3,2.3 0 0 1 30.1,15.3" stroke="#f7931e"/><path d="M23.9,10.7 C25,10.7 26,11.4 27,13 C28,14.6 29,15.3 30.1,15.3" stroke="#29abe2"/></g>
<text x="40.8" y="18.6" font-size="15.4" fill="#131722" textLength="200" lengthAdjust="spacingAndGlyphs">ICP / TetherUS · 4h · Binance</text>
<circle cx="259" cy="13.2" r="8.5" fill="rgba(8,153,129,0.18)"/><circle cx="259" cy="13.2" r="3.8" fill="#089981"/>
<g font-size="13">
<text x="276.3" y="17.8" textLength="41.1" lengthAdjust="spacingAndGlyphs"><tspan fill="#131722">O</tspan><tspan fill="#089981">2.628</tspan></text>
<text x="325" y="17.8" textLength="40" lengthAdjust="spacingAndGlyphs"><tspan fill="#131722">H</tspan><tspan fill="#089981">2.949</tspan></text>
<text x="372.4" y="17.8" textLength="38.4" lengthAdjust="spacingAndGlyphs"><tspan fill="#131722">L</tspan><tspan fill="#089981">2.594</tspan></text>
<text x="417.6" y="17.8" textLength="39.2" lengthAdjust="spacingAndGlyphs"><tspan fill="#131722">C</tspan><tspan fill="#089981">2.711</tspan></text>
<text x="464.7" y="17.8" fill="#089981" textLength="90.5" lengthAdjust="spacingAndGlyphs">+0.083 (+3.16%)</text>
</g>
<rect x="18.5" y="29.5" width="54" height="33" rx="4" fill="#fff" stroke="#f23645"/>
<text x="45.5" y="43.2" font-size="12" fill="#f23645" text-anchor="middle" stroke="#f23645" stroke-width="0.35">2.711</text><text x="45.5" y="57.2" font-size="10.5" fill="#f23645" text-anchor="middle">SELL</text>
<rect x="113.5" y="29.5" width="54" height="33" rx="4" fill="#fff" stroke="#2962ff"/>
<text x="140.5" y="43.2" font-size="12" fill="#2962ff" text-anchor="middle" stroke="#2962ff" stroke-width="0.35">2.712</text><text x="140.5" y="57.2" font-size="10.5" fill="#2962ff" text-anchor="middle">BUY</text>
<text x="92.6" y="49.2" font-size="9.5" fill="#131722" text-anchor="middle">0.001</text>
<rect x="18.5" y="70.5" width="31" height="20" rx="3" fill="#fff" stroke="#d9dbe2"/>
<path d="M24.8,78.7 l3.6,3.3 l3.6,-3.3" fill="none" stroke="#131722" stroke-width="1.2"/>
<text x="37.5" y="85" font-size="12" fill="#131722">6</text>
</svg></body></html>
